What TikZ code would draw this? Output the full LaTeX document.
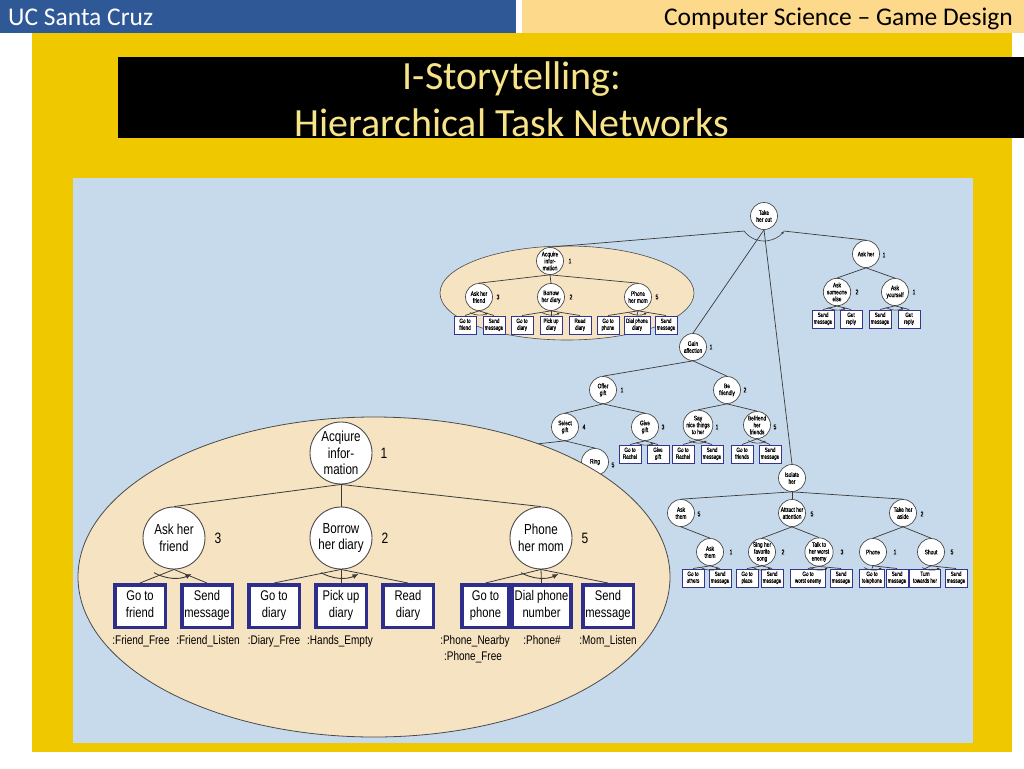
\documentclass[tikz,border=0pt]{standalone}
\usepackage{fontspec}
\setmainfont{Carlito}
\newfontfamily\narrowf[FakeStretch=0.80]{Liberation Sans}
\newfontfamily\tinyf[FakeStretch=0.74, FakeBold=0.6]{Liberation Sans}
\usetikzlibrary{arrows.meta}
\definecolor{hdrblue}{HTML}{2F5896}
\definecolor{hdrpale}{HTML}{FCD98B}
\definecolor{slidegold}{HTML}{F0C800}
\definecolor{panel}{HTML}{C6DAEB}
\definecolor{wheat}{HTML}{F6E3C2}
\definecolor{titletxt}{HTML}{F8E488}
\definecolor{cline}{HTML}{4A4A4A}
\definecolor{bboxc}{HTML}{2E2F8C}
\definecolor{sboxc}{HTML}{34358F}
\definecolor{eline}{HTML}{3A3A3A}
\newcommand\sordarc[1]{\draw[sarc] (#1.center) ++(240:18pt) arc[start angle=240,end angle=300,radius=18pt];}
\newcommand\bordarc[1]{\draw[barc] (#1.center) ++(240:40pt) arc[start angle=240,end angle=296,radius=40pt];}
\newcommand\twoline[2]{\strut#1\\\strut#2}
\begin{document}
\begin{tikzpicture}[x=1pt,y=-1pt,
  scirc/.style={circle, draw=cline, fill=white, line width=0.7pt, minimum size=27, inner sep=0pt, align=center, font=\tinyf\fontsize{6.6}{6.9}\selectfont},
  sbox/.style={rectangle, draw=sboxc, fill=white, line width=1pt, minimum width=22, minimum height=18, inner sep=0pt, align=center, font=\tinyf\fontsize{6.2}{6.8}\selectfont},
  snum/.style={inner sep=0pt, font=\tinyf\fontsize{6.8}{7}\selectfont},
  bcirc/.style={circle, draw=cline, fill=white, line width=0.9pt, minimum size=62, inner sep=0pt, align=center, font=\narrowf\fontsize{14.5}{16.5}\selectfont},
  bbox/.style={rectangle, draw=bboxc, fill=white, line width=3.5pt, minimum width=50.5, minimum height=42.5, inner sep=0pt, align=center, font=\narrowf\fontsize{14}{17}\selectfont},
  bnum/.style={inner sep=0pt, font=\narrowf\fontsize{15}{16}\selectfont},
  blab/.style={inner sep=0pt, anchor=base, font=\narrowf\fontsize{12.5}{14}\selectfont},
  link/.style={draw=eline, line width=0.7pt},
  blink/.style={draw=eline, line width=0.8pt},
  sarc/.style={draw=eline, line width=0.6pt, -{Latex[length=3pt,width=2.6pt]}},
  barc/.style={draw=eline, line width=0.9pt, -{Latex[length=6pt,width=5pt]}}
]
\useasboundingbox (0,0) rectangle (1024,768);
% slide background
\fill[white] (0,0) rectangle (1024,768);
\fill[hdrblue] (0,0) rectangle (516,33);
\fill[hdrpale] (522,0) rectangle (1024,33);
\fill[slidegold] (32,33) rectangle (1012,752);
\fill[black] (118,57) rectangle (1024,138);
\fill[panel] (73,178) rectangle (973,743);
\node[anchor=base west, text=white, inner sep=0pt, font=\fontsize{25.5}{28}\selectfont] (hleft) at (8,26) {UC Santa Cruz};
\node[anchor=base east, text=black, inner sep=0pt, font=\fontsize{25.5}{28}\selectfont] (hright) at (1013,26) {Computer Science – Game Design};
\node[text=titletxt, align=center, inner sep=0pt, font=\fontsize{40}{47}\selectfont] (title) at (512,99) {I-Storytelling:\\Hierarchical Task Networks};

% small ellipse
\draw[fill=wheat, draw=cline, line width=0.6pt] (567,293) ellipse [x radius=127, y radius=47];

% top node
\node[scirc] (take) at (764,216) {Take\\her out};
\path (take.center) ++(217:25pt) coordinate (takeL);
\path (take.center) ++(323:25pt) coordinate (takeR);
\draw[sarc] (takeL) arc[start angle=217,end angle=323,radius=25pt];

% small acquire tree
\node[scirc] (sacq) at (550,261) {Acquire\\infor-\\mation};
\node[snum] (nsacq) at (570,261) {1};
\node[scirc] (saskf) at (479,297) {Ask her\\friend};
\node[snum] (nsaskf) at (498,297) {3};
\node[scirc] (sbor) at (551,297) {Borrow\\her diary};
\node[snum] (nsbor) at (571,297) {2};
\node[scirc] (sphm) at (638,297) {Phone\\her mom};
\node[snum] (nsphm) at (657,297) {5};
\node[sbox] (sb1) at (465,325) {\twoline{Go to}{friend}};
\node[sbox] (sb2) at (494,325) {\twoline{Send}{message}};
\node[sbox] (sb3) at (522,325) {\twoline{Go to}{diary}};
\node[sbox] (sb4) at (551,325) {\twoline{Pick up}{diary}};
\node[sbox] (sb5) at (580,325) {\twoline{Read}{diary}};
\node[sbox] (sb6) at (608,325) {\twoline{Go to}{phone}};
\node[sbox, minimum width=26] (sb7) at (637,325) {\twoline{Dial phone}{diary}};
\node[sbox] (sb8) at (666,325) {\twoline{Send}{message}};
\draw[link] (takeL) -- (sacq.north);
\draw[link] (sacq.south) -- (saskf.north);
\draw[link] (sacq.south) -- (sbor.north);
\draw[link] (sacq.south) -- (sphm.north);
\draw[link] (saskf.south) -- (sb1.north);
\draw[link] (saskf.south) -- (sb2.north);
\draw[link] (sbor.south) -- (sb3.north);
\draw[link] (sbor.south) -- (sb4.north);
\draw[link] (sbor.south) -- (sb5.north);
\draw[link] (sphm.south) -- (sb6.north);
\draw[link] (sphm.south) -- (sb7.north);
\draw[link] (sphm.south) -- (sb8.north);
\sordarc{saskf}\sordarc{sbor}\sordarc{sphm}

% ask her
\node[scirc] (askher) at (866,254) {Ask her};
\node[snum] (naskher) at (884,255) {1};
\node[scirc] (askse) at (837,292) {Ask\\someone\\else};
\node[snum] (naskse) at (857,292) {2};
\node[scirc] (askys) at (895,292) {Ask\\yourself};
\node[snum] (naskys) at (914,292) {1};
\node[sbox] (ab1) at (823,319) {\twoline{Send}{message}};
\node[sbox] (ab2) at (851,319) {\twoline{Get}{reply}};
\node[sbox] (ab3) at (880,319) {\twoline{Send}{message}};
\node[sbox] (ab4) at (909,319) {\twoline{Get}{reply}};
\draw[link] (takeR) -- (askher.north);
\draw[link] (askher.south) -- (askse.north);
\draw[link] (askher.south) -- (askys.north);
\draw[link] (askse.south) -- (ab1.north);
\draw[link] (askse.south) -- (ab2.north);
\draw[link] (askys.south) -- (ab3.north);
\draw[link] (askys.south) -- (ab4.north);
\sordarc{askse}\sordarc{askys}

% gain affection
\node[scirc] (gain) at (693,347) {Gain\\affection};
\node[snum] (ngain) at (711,347) {1};
\node[scirc] (offer) at (603,390) {Offer\\gift};
\node[snum] (noffer) at (622,390) {1};
\node[scirc] (befr) at (727,390) {Be\\friendly};
\node[snum] (nbefr) at (745,390) {2};
\node[scirc] (select) at (565,427) {Select\\gift};
\node[snum] (nselect) at (584,427) {4};
\node[scirc] (give) at (645,427) {Give\\gift};
\node[snum] (ngive) at (663,427) {3};
\node[scirc] (say) at (698,425) {Say\\nice things\\to her};
\node[snum] (nsay) at (717,427) {1};
\node[scirc] (befriend) at (757,425) {Befriend\\her\\friends};
\node[snum] (nbefriend) at (775,427) {5};
\node[scirc] (ring) at (595,462) {Ring};
\node[snum] (nring) at (613,465) {5};
\coordinate (hidden) at (500,448);
\node[sbox] (gb1) at (630,454) {\twoline{Go to}{Rachel}};
\node[sbox] (gb2) at (658,454) {\twoline{Give}{gift}};
\node[sbox] (gb3) at (683,454) {\twoline{Go to}{Rachel}};
\node[sbox] (gb4) at (712,454) {\twoline{Send}{message}};
\node[sbox] (gb5) at (742,454) {\twoline{Go to}{friends}};
\node[sbox] (gb6) at (770,454) {\twoline{Send}{message}};
\draw[link] (take.south) -- (gain.north);
\draw[link] (gain.south) -- (offer.north);
\draw[link] (gain.south) -- (befr.north);
\draw[link] (offer.south) -- (select.north);
\draw[link] (offer.south) -- (give.north);
\draw[link] (befr.south) -- (say.north);
\draw[link] (befr.south) -- (befriend.north);
\draw[link] (select.south) -- (hidden);
\draw[link] (select.south) -- (ring.north);
\draw[link] (give.south) -- (gb1.north);
\draw[link] (give.south) -- (gb2.north);
\draw[link] (say.south) -- (gb3.north);
\draw[link] (say.south) -- (gb4.north);
\draw[link] (befriend.south) -- (gb5.north);
\draw[link] (befriend.south) -- (gb6.north);
\sordarc{give}\sordarc{say}\sordarc{befriend}

% isolate her
\node[scirc] (iso) at (792,478) {Isolate\\her};
\node[scirc] (askth) at (681,513) {Ask\\them};
\node[snum] (naskth) at (699,514) {5};
\node[scirc] (attr) at (792,513) {Attract her\\attention};
\node[snum] (nattr) at (812,514) {5};
\node[scirc] (aside) at (903,513) {Take her\\aside};
\node[snum] (naside) at (922,514) {2};
\node[scirc] (askth2) at (710,552) {Ask\\them};
\node[snum] (naskth2) at (731,552) {1};
\node[scirc] (sing) at (762,552) {Sing her\\favorite\\song};
\node[snum] (nsing) at (783,552) {2};
\node[scirc] (talk) at (819,552) {Talk to\\her worst\\enemy};
\node[snum] (ntalk) at (842,552) {3};
\node[scirc] (phone) at (873,552) {Phone};
\node[snum] (nphone) at (895,552) {1};
\node[scirc] (shout) at (931,552) {Shout};
\node[snum] (nshout) at (952,552) {5};
\node[sbox] (ib1) at (693,578) {\twoline{Go to}{others}};
\node[sbox] (ib2) at (720,578) {\twoline{Send}{message}};
\node[sbox] (ib3) at (747,578) {\twoline{Go to}{place}};
\node[sbox] (ib4) at (772,578) {\twoline{Send}{message}};
\node[sbox, minimum width=35] (ib5) at (808,578) {\twoline{Go to}{worst enemy}};
\node[sbox] (ib6) at (841,578) {\twoline{Send}{message}};
\node[sbox, minimum width=25] (ib7) at (872,578) {\twoline{Go to}{telephone}};
\node[sbox] (ib8) at (897,578) {\twoline{Send}{message}};
\node[sbox, minimum width=31] (ib9) at (925,578) {\twoline{Turn}{towards her}};
\node[sbox] (ib10) at (956,578) {\twoline{Send}{message}};
\draw[link] (take.south) -- (iso.north);
\draw[link] (iso.south) -- (askth.north);
\draw[link] (iso.south) -- (attr.north);
\draw[link] (iso.south) -- (aside.north);
\draw[link] (askth.south) -- (askth2.north);
\draw[link] (attr.south) -- (sing.north);
\draw[link] (attr.south) -- (talk.north);
\draw[link] (aside.south) -- (phone.north);
\draw[link] (aside.south) -- (shout.north);
\draw[link] (askth2.south) -- (ib1.north);
\draw[link] (askth2.south) -- (ib2.north);
\draw[link] (sing.south) -- (ib3.north);
\draw[link] (sing.south) -- (ib4.north);
\draw[link] (talk.south) -- (ib5.north);
\draw[link] (talk.south) -- (ib6.north);
\draw[link] (phone.south) -- (ib7.north);
\draw[link] (phone.south) -- (ib8.north);
\draw[link] (shout.south) -- (ib9.north);
\draw[link] (shout.south) -- (ib10.north);
\sordarc{askth2}\sordarc{sing}\sordarc{talk}\sordarc{phone}\sordarc{shout}

% big ellipse
\draw[fill=wheat, draw=cline, line width=0.8pt] (374,577) ellipse [x radius=296, y radius=160];

% big tree
\node[bcirc] (bacq) at (341,453) {Acqiure\\infor-\\mation};
\node[bnum] (nbacq) at (384,453) {1};
\node[bcirc] (baskf) at (174,538) {Ask her\\friend};
\node[bnum] (nbaskf) at (218,538) {3};
\node[bcirc] (bbor) at (341,538) {Borrow\\her diary};
\node[bnum] (nbbor) at (385,538) {2};
\node[bcirc] (bphm) at (541,538) {Phone\\her mom};
\node[bnum] (nbphm) at (585,538) {5};
\node[bbox] (bb1) at (140,606) {\twoline{Go to}{friend}};
\node[bbox] (bb2) at (207,606) {\twoline{Send}{message}};
\node[bbox] (bb3) at (274,606) {\twoline{Go to}{diary}};
\node[bbox] (bb4) at (341,606) {\twoline{Pick up}{diary}};
\node[bbox] (bb5) at (408,606) {\twoline{Read}{diary}};
\node[bbox, minimum width=47] (bb6) at (485.5,606) {\twoline{Go to}{phone}};
\node[bbox, minimum width=59] (bb7) at (541.5,606) {\twoline{Dial phone}{number}};
\node[bbox] (bb8) at (608,606) {\twoline{Send}{message}};
\node[blab] (l1) at (141,644) {:Friend\_Free};
\node[blab] (l2) at (208,644) {:Friend\_Listen};
\node[blab] (l3) at (274,644) {:Diary\_Free};
\node[blab] (l4) at (340,644) {:Hands\_Empty};
\node[blab] (l5) at (475,644) {:Phone\_Nearby};
\node[blab] (l6) at (473,660) {:Phone\_Free};
\node[blab] (l7) at (542,644) {:Phone\#};
\node[blab] (l8) at (608,644) {:Mom\_Listen};
\draw[blink] (bacq.south) -- (baskf.north);
\draw[blink] (bacq.south) -- (bbor.north);
\draw[blink] (bacq.south) -- (bphm.north);
\draw[blink] (baskf.south) -- (bb1.north);
\draw[blink] (baskf.south) -- (bb2.north);
\draw[blink] (bbor.south) -- (bb3.north);
\draw[blink] (bbor.south) -- (bb4.north);
\draw[blink] (bbor.south) -- (bb5.north);
\draw[blink] (bphm.south) -- (bb6.north);
\draw[blink] (bphm.south) -- (bb7.north);
\draw[blink] (bphm.south) -- (bb8.north);
\bordarc{baskf}\bordarc{bbor}\bordarc{bphm}
\end{tikzpicture}
\end{document}
